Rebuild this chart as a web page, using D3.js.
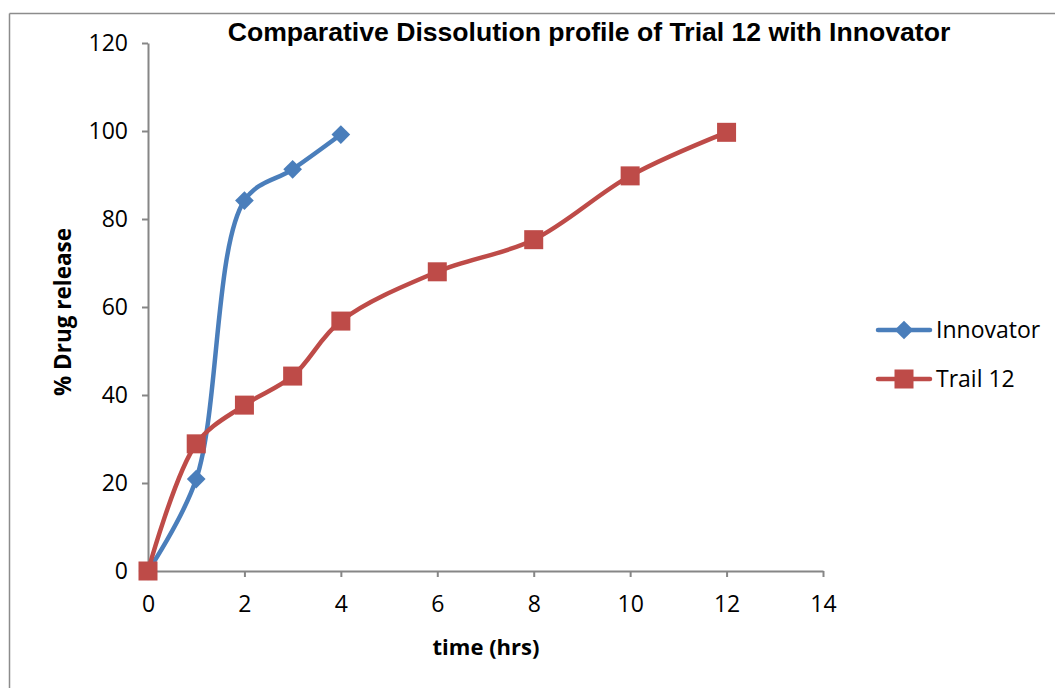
<!DOCTYPE html>
<html>
<head>
<meta charset="utf-8">
<script src="https://cdn.jsdelivr.net/npm/d3@7"></script>
<style>
  html, body { margin: 0; padding: 0; background: #fff; }
  svg { display: block; }
</style>
</head>
<body>
<script>
const timeInnovator = [0, 1, 2, 3, 4];
const innovator = [0, 20.9, 84.2, 91.3, 99.2];
const timeTrial = [0, 1, 2, 3, 4, 6, 8, 10, 12];
const trial12 = [0, 28.9, 37.7, 44.3, 56.8, 68.0, 75.3, 89.8, 99.7];
const seriesNames = ["Innovator", "Trail 12"];
const xTicks = [0, 2, 4, 6, 8, 10, 12, 14];
const yTicks = [0, 20, 40, 60, 80, 100, 120];
const titleText = "Comparative Dissolution profile of Trial 12 with Innovator";
const xTitle = "time (hrs)";
const yTitle = "% Drug release";

const W = 1056, H = 688;
const svg = d3.select("body").append("svg").attr("width", W).attr("height", H);

// chart frame (top and left edges visible)
svg.append("line").attr("x1", 9.5).attr("y1", 13.5).attr("x2", 1055).attr("y2", 13.5)
  .attr("stroke", "#8c8c8c").attr("stroke-width", 1.5);
svg.append("line").attr("x1", 9.5).attr("y1", 13.5).attr("x2", 9.5).attr("y2", H)
  .attr("stroke", "#8c8c8c").attr("stroke-width", 1.5);

const x = d3.scaleLinear().domain([0, 14]).range([148, 823]);
const y = d3.scaleLinear().domain([0, 120]).range([571, 43]);

const axisColor = "#868686";
const tickFont = "'Open Sans', sans-serif";
const tickSize = 23;

// x axis
const gx = svg.append("g").attr("transform", `translate(0,${y(0)})`)
  .call(d3.axisBottom(x).tickValues(xTicks).tickSize(6).tickPadding(19).tickSizeOuter(0));
gx.select(".domain").attr("stroke", axisColor).attr("stroke-width", 2);
gx.selectAll(".tick line").attr("stroke", axisColor).attr("stroke-width", 2);
gx.selectAll(".tick text").attr("font-family", tickFont).attr("font-size", tickSize).attr("fill", "#000");

// y axis
const gy = svg.append("g").attr("transform", `translate(${x(0)},0)`)
  .call(d3.axisLeft(y).tickValues(yTicks).tickSize(6).tickPadding(14).tickSizeOuter(0));
gy.select(".domain").attr("stroke", axisColor).attr("stroke-width", 2);
gy.selectAll(".tick line").attr("stroke", axisColor).attr("stroke-width", 2);
gy.selectAll(".tick text").attr("font-family", tickFont).attr("font-size", tickSize).attr("fill", "#000");

// title
svg.append("text").attr("x", 589).attr("y", 41).attr("text-anchor", "middle")
  .attr("font-family", "'Liberation Sans', Arial, sans-serif").attr("font-weight", "bold")
  .attr("font-size", 26.6).text(titleText);

// axis titles
svg.append("text").attr("x", 486).attr("y", 655).attr("text-anchor", "middle")
  .attr("font-family", tickFont).attr("font-weight", "bold").attr("font-size", 22).text(xTitle);
svg.append("text").attr("transform", "translate(71,312) rotate(-90)").attr("text-anchor", "middle")
  .attr("font-family", tickFont).attr("font-weight", "bold").attr("font-size", 22.5).text(yTitle);

const blue = "#4a7ebb", red = "#be4b48";
const line = d3.line().curve(d3.curveCatmullRom.alpha(0.5));

const dataInn = timeInnovator.map((t, i) => [x(t), y(innovator[i])]);
const dataTr = timeTrial.map((t, i) => [x(t), y(trial12[i])]);

svg.append("path").attr("d", line(dataInn)).attr("fill", "none")
  .attr("stroke", blue).attr("stroke-width", 4.5).attr("stroke-linecap", "round");
svg.append("path").attr("d", line(dataTr)).attr("fill", "none")
  .attr("stroke", red).attr("stroke-width", 4.5).attr("stroke-linecap", "round");

const diamond = d3.symbol().type(d3.symbolSquare).size(175)();
function drawDiamond(g, cx, cy) {
  g.append("path").attr("d", diamond)
    .attr("transform", `translate(${cx},${cy}) rotate(45)`).attr("fill", blue);
}
function drawSquare(g, cx, cy) {
  g.append("rect").attr("x", cx - 9.5).attr("y", cy - 9.5).attr("width", 19).attr("height", 19)
    .attr("fill", red);
}

const mInn = svg.append("g");
dataInn.forEach(d => drawDiamond(mInn, d[0], d[1]));
const mTr = svg.append("g");
dataTr.forEach(d => drawSquare(mTr, d[0], d[1]));

// legend
const legY = [330, 379];
const leg = svg.append("g");
[0, 1].forEach(i => {
  const col = i === 0 ? blue : red;
  leg.append("line").attr("x1", 878).attr("x2", 930).attr("y1", legY[i]).attr("y2", legY[i])
    .attr("stroke", col).attr("stroke-width", 4.5).attr("stroke-linecap", "round");
  if (i === 0) drawDiamond(leg, 904, legY[i]); else drawSquare(leg, 904, legY[i]);
  leg.append("text").attr("x", 936).attr("y", legY[i] + 8).attr("font-family", tickFont)
    .attr("font-size", tickSize).attr("fill", "#000").text(seriesNames[i]);
});
</script>
</body>
</html>
